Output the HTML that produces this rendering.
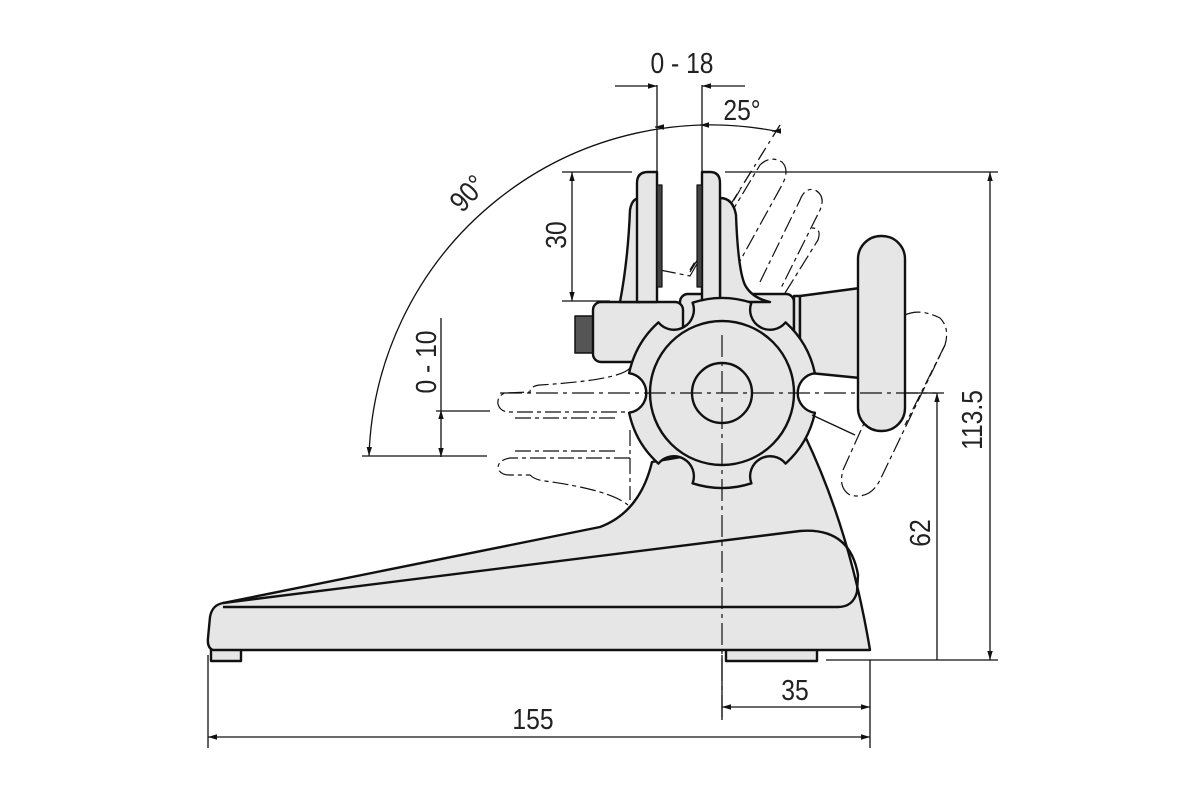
<!DOCTYPE html>
<html><head><meta charset="utf-8"><style>
html,body{margin:0;padding:0;background:#fff;}
svg{display:block;}
text{font-family:"Liberation Sans",sans-serif;font-size:29px;fill:#222;}
</style></head><body>
<svg width="1200" height="800" viewBox="0 0 1200 800" xmlns="http://www.w3.org/2000/svg">
<defs>
<marker id="a" viewBox="0 0 10 10" refX="10" refY="5" markerWidth="9" markerHeight="9" orient="auto-start-reverse" markerUnits="userSpaceOnUse"><path d="M0,2 L10,5 L0,8 Z" fill="#111"/></marker>
</defs>
<g fill="none" stroke="#111" stroke-width="1.3">
<path d="M775,131 A342,342 0 0 0 369,456" marker-end="url(#a)"/>
<path d="M657,127 L655,127" marker-end="url(#a)"/>
<path d="M700,125 L702,125" marker-start="url(#a)"/>
<path d="M775,131 L772,131" marker-end="url(#a)"/>
<line x1="780" y1="125" x2="690" y2="270" stroke-dasharray="14,5,3,5"/>
<line x1="657" y1="85" x2="657" y2="172"/>
<line x1="702" y1="85" x2="702" y2="172"/>
<line x1="615" y1="86" x2="657" y2="86" marker-end="url(#a)"/>
<line x1="745" y1="86" x2="702" y2="86" marker-end="url(#a)"/>
<line x1="562" y1="172" x2="632" y2="172"/>
<line x1="562" y1="301" x2="610" y2="301"/>
<line x1="572" y1="172" x2="572" y2="301" marker-start="url(#a)" marker-end="url(#a)"/>
<line x1="441" y1="318" x2="441" y2="410"/>
<line x1="441" y1="410" x2="441" y2="457" marker-start="url(#a)" marker-end="url(#a)"/>
<line x1="436" y1="411" x2="490" y2="411"/>
<line x1="362" y1="456" x2="487" y2="456"/>
<line x1="725" y1="172" x2="998" y2="172"/>
<line x1="826" y1="660" x2="998" y2="660"/>
<line x1="990" y1="172" x2="990" y2="660" marker-start="url(#a)" marker-end="url(#a)"/>
<line x1="905" y1="393" x2="944" y2="393"/>
<line x1="937" y1="393" x2="937" y2="660" marker-start="url(#a)"/>
<line x1="722" y1="655" x2="722" y2="720"/>
<line x1="870" y1="660" x2="870" y2="748"/>
<line x1="208" y1="655" x2="208" y2="748"/>
<line x1="722" y1="707" x2="870" y2="707" marker-start="url(#a)" marker-end="url(#a)"/>
<line x1="208" y1="737" x2="870" y2="737" marker-start="url(#a)" marker-end="url(#a)"/>
</g>
<g fill="none" stroke="#111" stroke-width="1.2" stroke-dasharray="16,4,4,4">
<path d="M630,368 Q620,380 540,385 Q530,386 530,392 L505,393 Q497,396 498,404 Q500,412 510,412 L632,412"/>
<path d="M515,418 L617,418"/>
<path d="M515,451 L617,451"/>
<path d="M630,458 L510,458 Q498,460 498,468 Q500,475 510,475 L530,475 Q535,480 545,481 Q610,490 628,505"/>
<path d="M630,430 L630,500"/>
<path d="M728,218 L760,165 Q770,155 782,162 Q790,170 782,185 L735,270"/>
<path d="M690,272 L740,190"/>
<path d="M660,270 L690,276 L725,215"/>
<path d="M760,282 L800,200 Q805,187 815,190 Q826,196 820,210 L780,290"/>
<path d="M785,293 L818,240 Q822,228 812,228"/>
<path d="M905,315 Q920,308 940,318 Q950,328 945,345 L880,480 Q870,500 850,495 Q838,488 843,470 L870,410"/>
<path d="M945,345 L905,425"/>
</g>
<g stroke="#111" stroke-width="2.4" fill="#e6e6e6" stroke-linejoin="round">
<rect x="211" y="649" width="30" height="12"/>
<rect x="726" y="649" width="91" height="12"/>
<path d="M223,603 L600,527 Q640,512 652,462 L805,436 Q850,530 870,650 L213,650 Q207,648 208,638 L210,617 Q212,605 223,603 Z"/>
<path fill="none" d="M223,603 L800,531 Q850,527 858,575 L857,592 Q853,607 838,607 L223,607"/>
<rect x="680" y="294" width="114" height="62" rx="8"/>
<rect x="794" y="296" width="6" height="78" />
<path d="M800,296 L860,288 L860,378 L800,372 Z"/>
<rect x="858" y="236" width="47" height="195" rx="23"/>
<rect x="575" y="316" width="20" height="37" fill="#555" stroke-width="1.5"/>
<rect x="593" y="302" width="90" height="60" rx="8"/>
<path d="M620,302 Q628,260 630,210 Q632,198 640,198 L640,302 Z"/>
<path d="M720,302 L720,198 Q733,198 736,215 Q738,270 745,285 Q752,298 770,302 Z"/>
<path d="M637,302 L637,183 Q637,172 648,172 L657,172 L657,302 Z"/>
<path d="M702,302 L702,172 L710,172 Q720,172 720,183 L720,302 Z"/>
<rect x="657" y="185" width="5" height="102" fill="#444" stroke-width="1.2"/>
<rect x="697" y="185" width="5" height="102" fill="#444" stroke-width="1.2"/>
<path d="M814.9,373.2 A95,95 0 0 0 785.6,322.4 A20,20 0 0 1 751.4,302.7 A95,95 0 0 0 692.6,302.7 A20,20 0 0 1 658.4,322.4 A95,95 0 0 0 629.1,373.2 A20,20 0 0 1 629.1,412.8 A95,95 0 0 0 658.4,463.6 A20,20 0 0 1 692.6,483.3 A95,95 0 0 0 751.4,483.3 A20,20 0 0 1 785.6,463.6 A95,95 0 0 0 814.9,412.8 A20,20 0 0 1 814.9,373.2 Z"/>
<circle cx="722" cy="393" r="72" fill="none"/>
<circle cx="722" cy="393" r="30" fill="none"/>
</g>
<line x1="812" y1="415" x2="855" y2="435" stroke="#111" stroke-width="1.3"/>
<g stroke="#111" stroke-width="1.2" stroke-dasharray="22,5,4,5" fill="none">
<line x1="722" y1="335" x2="722" y2="722"/>
<line x1="500" y1="393" x2="936" y2="393"/>
</g>
<text x="682" y="73" text-anchor="middle" transform="translate(682,0) scale(0.85,1) translate(-682,0)">0 - 18</text>
<text x="742" y="120" text-anchor="middle" transform="translate(742,0) scale(0.85,1) translate(-742,0)">25°</text>
<text transform="translate(475,200) rotate(-47) scale(0.85,1)" text-anchor="middle">90°</text>
<text transform="translate(566,235) rotate(-90) scale(0.85,1)" text-anchor="middle">30</text>
<text transform="translate(436,362) rotate(-90) scale(0.85,1)" text-anchor="middle">0 - 10</text>
<text transform="translate(982,420) rotate(-90) scale(0.85,1)" text-anchor="middle">113.5</text>
<text transform="translate(930,533) rotate(-90) scale(0.85,1)" text-anchor="middle">62</text>
<text x="795" y="700" text-anchor="middle" transform="translate(795,0) scale(0.85,1) translate(-795,0)">35</text>
<text x="533" y="729" text-anchor="middle" transform="translate(533,0) scale(0.85,1) translate(-533,0)">155</text>
</svg>
</body></html>
